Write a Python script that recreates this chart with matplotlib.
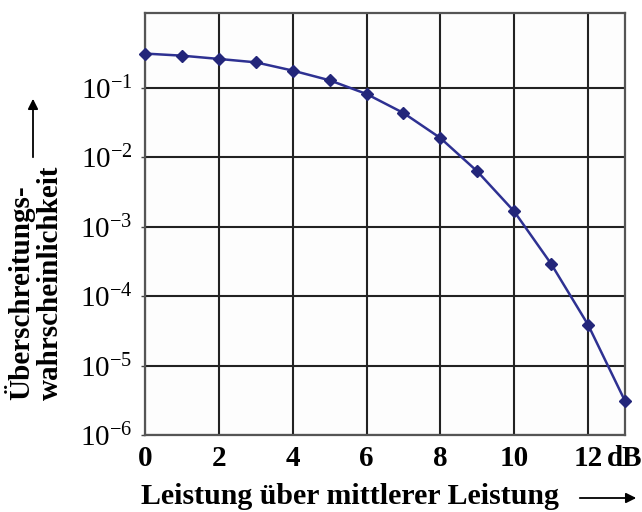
import matplotlib
matplotlib.use("Agg")
import matplotlib.pyplot as plt
import numpy as np

# Data
x_db = [0, 1, 2, 3, 4, 5, 6, 7, 8, 9, 10, 11, 12, 13]
prob = [0.313, 0.292, 0.262, 0.234, 0.178, 0.129, 0.0819, 0.0436, 0.0190,
        0.00628, 0.00166, 2.92e-4, 3.87e-5, 3.09e-6]
x_ticks = [0, 2, 4, 6, 8, 10, 12, 13]
x_ticklabels = ["0", "2", "4", "6", "8", "10", "12", "dB"]
y_ticks = [1e-1, 1e-2, 1e-3, 1e-4, 1e-5, 1e-6]
y_ticklabels = [r"$10^{-1}$", r"$10^{-2}$", r"$10^{-3}$",
                r"$10^{-4}$", r"$10^{-5}$", r"$10^{-6}$"]
x_label = "Leistung über mittlerer Leistung"
y_label = "Überschreitungs-\nwahrscheinlichkeit"

plt.rcParams['font.family'] = ['Liberation Serif', 'DejaVu Serif']
plt.rcParams['mathtext.fontset'] = 'custom'
plt.rcParams['mathtext.rm'] = 'Liberation Serif'
plt.rcParams['mathtext.it'] = 'Liberation Serif'
plt.rcParams['mathtext.bf'] = 'Liberation Serif:bold'

fig = plt.figure(figsize=(6.42, 5.12), dpi=100)
ax = fig.add_axes([145/642, 77/512, 480/642, 422/512])
ax.set_facecolor('#fdfdfd')

ax.set_yscale('log')
ax.set_xlim(0, 13)
ax.set_ylim(1e-6, 10**0.08)

# grid
for xv in x_ticks[:-1]:
    ax.axvline(xv, color='#222222', lw=1.5, zorder=1)
for yv in y_ticks:
    ax.axhline(yv, color='#222222', lw=1.5, zorder=1)

ax.plot(x_db, prob, color='#2e3192', lw=1.8, marker='D', markersize=6.5,
        markerfacecolor='#23267a', markeredgecolor='#23267a', zorder=3, clip_on=False)

ax.set_xticks(x_ticks)
ax.set_xticklabels(x_ticklabels, fontsize=21, fontweight='bold')
ax.set_yticks(y_ticks)
ax.set_yticklabels(y_ticklabels, fontsize=21)
ax.minorticks_off()
ax.tick_params(axis='x', length=0, pad=7)
ax.tick_params(axis='y', length=3, width=1, pad=6, color='#444444')

for s in ax.spines.values():
    s.set_color('#555555')
    s.set_linewidth(1.6)

fig.text(350/642, 1 - 497/512, x_label, ha='center', va='center',
         fontsize=21.5, fontweight='bold')
fig.text(34/642, 1 - 400/512, y_label, ha='center', va='bottom', rotation=90,
         fontsize=21, fontweight='bold', multialignment='left', linespacing=1.1)

# arrows
fig.add_artist(matplotlib.patches.FancyArrowPatch(
    (577/642, 1 - 498/512), (639/642, 1 - 498/512), transform=fig.transFigure,
    arrowstyle='-|>', mutation_scale=15, color='black', lw=1.3))
fig.add_artist(matplotlib.patches.FancyArrowPatch(
    (33/642, 1 - 160/512), (33/642, 1 - 96/512), transform=fig.transFigure,
    arrowstyle='-|>', mutation_scale=15, color='black', lw=1.3))

fig.savefig('out.png', dpi=100, facecolor='white')
